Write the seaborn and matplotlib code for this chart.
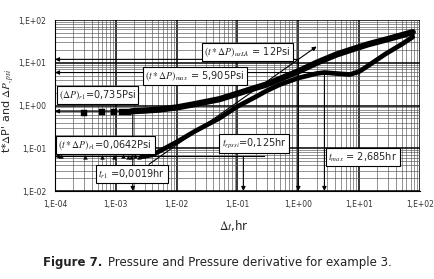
import numpy as np
import pandas as pd
import seaborn as sns
import matplotlib
matplotlib.use('Agg')
import matplotlib.pyplot as plt
from matplotlib.ticker import FixedLocator, FuncFormatter, NullFormatter

# early-time pressure points (squares) and continuous pressure curve
t_dp_pts = [2.95e-4, 6.0e-4, 9.4e-4, 1.27e-3, 1.6e-3]
dp_pts = [0.68, 0.69, 0.70, 0.71, 0.72]
t_dp = [1.8e-3, 2e-3, 3e-3, 5e-3, 0.01, 0.02, 0.05, 0.1, 0.2, 0.3, 0.5, 1, 2, 4.2, 8, 14, 30, 76]
dp = [0.73, 0.74, 0.76, 0.80, 0.90, 1.08, 1.40, 1.90, 2.6, 3.1, 4.2, 6.3, 10.0, 15.5, 21, 27, 36, 52]

# early-time derivative points (triangles) and continuous derivative curve
t_der_pts = [1.25e-4, 3.1e-4, 6.0e-4, 9.4e-4, 1.3e-3, 1.6e-3, 1.8e-3, 2.1e-3, 2.4e-3, 2.7e-3]
der_pts = [0.0642, 0.063, 0.0635, 0.064, 0.0642, 0.063, 0.064, 0.0642, 0.064, 0.0645]
t_der = [2.7e-3, 3e-3, 4e-3, 5.6e-3, 0.01, 0.02, 0.05, 0.1, 0.2, 0.3, 0.5, 1, 2, 2.685, 4.2, 7, 10, 14, 20, 27, 50, 76]
der = [0.0642, 0.065, 0.07, 0.09, 0.14, 0.25, 0.50, 0.95, 1.6, 2.2, 3.1, 4.4, 5.6, 5.905, 5.6, 5.3, 6.2, 8.5, 12, 16, 27, 40]

# characteristic values
dp_r1 = 0.735
der_r1 = 0.0642
t_r1 = 0.0019
t_rpssi = 0.125
der_max = 5.905
t_max = 2.685
der_us = 12.0

x_decades = [-4, -3, -2, -1, 0, 1, 2]
y_decades = [-2, -1, 0, 1, 2]

sns.set_style('white')
plt.rcParams['font.family'] = ['DejaVu Sans']
plt.rcParams['mathtext.fontset'] = 'stix'

fig = plt.figure(figsize=(4.34, 2.79), dpi=100)
ax = fig.add_axes([0.1267, 0.3154, 0.8410, 0.6129])

# curves
sns.lineplot(x=t_dp, y=dp, color='black', linewidth=4.5, sort=False, ax=ax, zorder=5)
sns.scatterplot(x=t_dp_pts, y=dp_pts, marker='s', s=16, color='black', edgecolor='black', ax=ax, zorder=5)
sns.lineplot(x=t_der, y=der, color='black', linewidth=3.4, sort=False, ax=ax, zorder=5)
sns.scatterplot(x=t_der_pts, y=der_pts, marker='^', s=8, color='black', edgecolor='black', ax=ax, zorder=5)

ax.set_xscale('log')
ax.set_yscale('log')
ax.set_xlim(1e-4, 1e2)
ax.set_ylim(1e-2, 1e2)

# dense log grid, ticks only inside the range
fmt = FuncFormatter(lambda v, _: f"1,E{int(round(np.log10(v))):+03d}")
for axis, dec in ((ax.xaxis, x_decades), (ax.yaxis, y_decades)):
    axis.set_major_locator(FixedLocator([10.0 ** d for d in dec]))
    axis.set_minor_locator(FixedLocator([m * 10.0 ** d for d in dec[:-1] for m in range(2, 10)]))
    axis.set_minor_formatter(NullFormatter())
    axis.set_major_formatter(fmt)
ax.grid(which='major', color='black', linewidth=1.1)
ax.grid(which='minor', color='#555555', linewidth=0.45)
ax.set_axisbelow(True)
for s in ax.spines.values():
    s.set_visible(False)
ax.spines['left'].set_visible(True)
ax.spines['bottom'].set_visible(True)
ax.spines['left'].set_color('black')
ax.spines['bottom'].set_color('black')
ax.tick_params(axis='both', which='major', labelsize=5.5, labelcolor='#333333', length=3, color='black')
ax.tick_params(axis='both', which='minor', length=0)

arrow = dict(arrowstyle='-|>', color='black', lw=0.8, mutation_scale=6, shrinkA=0, shrinkB=0)

# horizontal reference lines pointing at the y axis
for val, t_end in [(dp_r1, t_r1), (der_r1, 0.28), (der_max, t_max), (der_us, 1.0)]:
    ax.annotate('', xy=(1e-4, val), xytext=(t_end, val), arrowprops=arrow, zorder=6)

# vertical reference lines pointing at the x axis
for t_v, val in [(t_r1, dp_r1), (t_rpssi, der_r1), (1.0, der_us), (t_max, der_max)]:
    ax.annotate('', xy=(t_v, 1e-2), xytext=(t_v, val), arrowprops=arrow, zorder=6)

# unit-slope lines
ax.annotate('', xy=(2.0, der_us * 2.0), xytext=(3.5e-3, der_us * 3.5e-3), arrowprops=arrow, zorder=6)
k2 = der_r1 / t_rpssi
ax.annotate('', xy=(105, k2 * 105), xytext=(0.05, k2 * 0.05), arrowprops=arrow, zorder=6)

box = dict(boxstyle='square,pad=0.25', fc='white', ec='black', lw=0.8)
labels = [
    (5.0e-4, 1.76, r"$(\Delta P)_{r1}$=0,735Psi"),
    (6.7e-4, 0.119, r"$(t*\Delta P)_{r1}$=0,0642Psi"),
    (1.84e-3, 0.025, r"$t_{r1}$ =0,0019hr"),
    (0.189, 0.126, r"$t_{rpssi}$=0,125hr"),
    (11.5, 0.062, r"$t_{max}$ = 2,685hr"),
    (0.020, 4.9, r"$(t*\Delta P)_{max}$ = 5,905Psi"),
    (0.145, 17.8, r"$(t*\Delta P)_{usLA}$ = 12Psi"),
]
for tx, ty, s in labels:
    ax.text(tx, ty, s, ha='center', va='center', fontsize=7, bbox=box, zorder=8)

ax.set_xlabel(r"$\Delta t$,hr", fontsize=8.5)
ax.xaxis.set_label_coords(0.49, -0.16)
ax.set_ylabel(r"t*$\Delta$P' and $\Delta P_{,psi}$", fontsize=8)
ax.yaxis.set_label_coords(-0.105, 0.47)

fig.text(43 / 434, 0.06, "Figure 7.", fontsize=8.5, fontweight='bold', color='#222222', va='center')
fig.text(108 / 434, 0.06, "Pressure and Pressure derivative for example 3.", fontsize=8.5,
         color='#222222', va='center')

fig.savefig('out.png', dpi=100)
